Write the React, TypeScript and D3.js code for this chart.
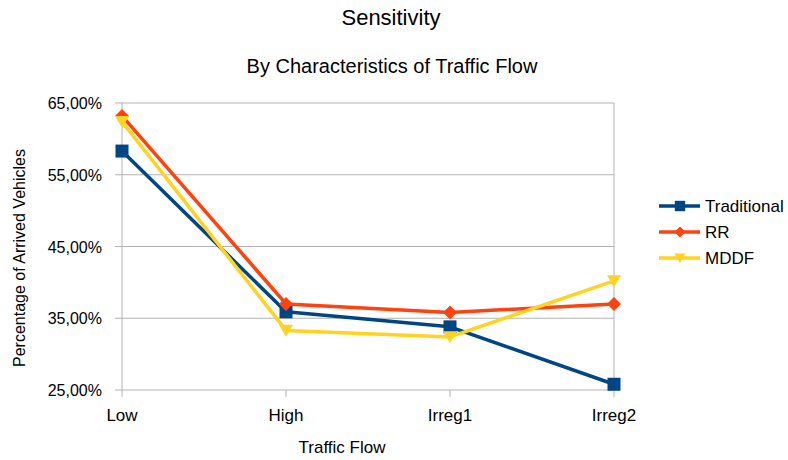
import React from "react";
import * as d3 from "d3";

const categories = ["Low", "High", "Irreg1", "Irreg2"];
const traditional = [58.3, 35.9, 33.8, 25.8];
const rr = [63.2, 37.0, 35.8, 37.0];
const mddf = [62.4, 33.3, 32.4, 40.2];
const yTicks = [25, 35, 45, 55, 65];

const seriesNames = ["Traditional", "RR", "MDDF"];
const seriesColors = ["#004586", "#ff420e", "#ffd320"];
const seriesShapes = ["square", "diamond", "triangle"];

const W = 788, H = 460;
const L = 122, R = 614, T = 103, B = 390;

function marker(shape: string, x: number, y: number, color: string, key: string, s = 1) {
  if (shape === "square") {
    const h = 6.5 * s;
    return <rect key={key} x={x - h} y={y - h} width={2 * h} height={2 * h} fill={color} />;
  }
  if (shape === "diamond") {
    const h = 7 * s;
    return <path key={key} d={`M${x},${y - h}L${x + h},${y}L${x},${y + h}L${x - h},${y}Z`} fill={color} />;
  }
  const h = 7 * s;
  return <path key={key} d={`M${x - h},${y - h * 0.8}L${x + h},${y - h * 0.8}L${x},${y + h * 0.9}Z`} fill={color} />;
}

export default function App() {
  const x = d3.scalePoint<string>().domain(categories).range([L, R]);
  const y = d3.scaleLinear().domain([25, 65]).range([B, T]);
  const data = [traditional, rr, mddf];
  const line = d3
    .line<number>()
    .x((_, i) => x(categories[i]) as number)
    .y((d) => y(d));
  const font = "'Liberation Sans', Arial, sans-serif";
  return (
    <svg width={W} height={H} style={{ position: "absolute", left: 0, top: 0 }} fontFamily={font}>
      <rect width={W} height={H} fill="#fff" />
      <text x={391} y={25} textAnchor="middle" fontSize={22} fill="#000">Sensitivity</text>
      <text x={392} y={73} textAnchor="middle" fontSize={20} fill="#000">By Characteristics of Traffic Flow</text>
      {yTicks.map((t) => (
        <g key={t}>
          <line x1={L - 7} x2={R} y1={y(t)} y2={y(t)} stroke="#b3b3b3" strokeWidth={1} />
          <text x={102} y={y(t) + 6} textAnchor="end" fontSize={16} fill="#000">
            {t.toFixed(2).replace(".", ",")}%
          </text>
        </g>
      ))}
      <line x1={L} x2={L} y1={T} y2={B} stroke="#b3b3b3" strokeWidth={1} />
      <line x1={R} x2={R} y1={T} y2={B} stroke="#b3b3b3" strokeWidth={1} />
      {categories.map((c) => (
        <g key={c}>
          <line x1={x(c)} x2={x(c)} y1={B} y2={B + 7} stroke="#b3b3b3" strokeWidth={1} />
          <text x={x(c)} y={421} textAnchor="middle" fontSize={17} fill="#000">{c}</text>
        </g>
      ))}
      <text x={342} y={453} textAnchor="middle" fontSize={17} fill="#000">Traffic Flow</text>
      <text
        transform={`translate(25,258) rotate(-90)`}
        textAnchor="middle"
        fontSize={16}
        fill="#000"
      >
        Percentage of Arrived Vehicles
      </text>
      {data.map((d, si) => (
        <g key={si}>
          <path d={line(d) || ""} fill="none" stroke={seriesColors[si]} strokeWidth={3.5} strokeLinejoin="round" />
          {d.map((v, i) => marker(seriesShapes[si], x(categories[i]) as number, y(v), seriesColors[si], `${si}-${i}`))}
        </g>
      ))}
      {seriesNames.map((n, si) => {
        const ly = 206 + si * 26;
        return (
          <g key={n}>
            <line x1={659} x2={700} y1={ly} y2={ly} stroke={seriesColors[si]} strokeWidth={3.5} />
            {marker(seriesShapes[si], 680, ly, seriesColors[si], `l${si}`, 0.8)}
            <text x={705} y={ly + 6} fontSize={17} fill="#000">{n}</text>
          </g>
        );
      })}
    </svg>
  );
}
